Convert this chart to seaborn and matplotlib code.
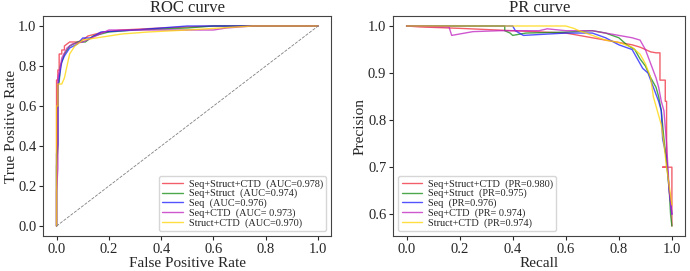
import pandas as pd
import seaborn as sns
import matplotlib.pyplot as plt

modelos = ['Seq+Struct+CTD', 'Seq+Struct', 'Seq', 'Seq+CTD', 'Struct+CTD']
colores = ['#ee2a3a', '#118a11', '#1a1aff', '#c020c0', '#ffd500']
auc_txt = ['(AUC=0.978)', '(AUC=0.974)', '(AUC=0.976)', '(AUC= 0.973)', '(AUC=0.970)']
pr_txt = ['(PR=0.980)', '(PR=0.975)', '(PR=0.976)', '(PR= 0.974)', '(PR=0.974)']

# ROC
fpr_red = [0, 0, 0.005, 0.005, 0.01, 0.01, 0.02, 0.02, 0.03, 0.03, 0.05, 0.08, 0.10, 0.12, 0.18, 0.25, 0.40, 0.60, 1.0]
tpr_red = [0, 0.73, 0.73, 0.78, 0.78, 0.86, 0.86, 0.88, 0.88, 0.90, 0.92, 0.92, 0.93, 0.95, 0.97, 0.98, 0.99, 1.0, 1.0]
fpr_green = [0, 0, 0.005, 0.005, 0.01, 0.015, 0.03, 0.05, 0.08, 0.11, 0.14, 0.20, 0.30, 0.50, 0.60, 1.0]
tpr_green = [0, 0.30, 0.39, 0.70, 0.72, 0.80, 0.86, 0.90, 0.92, 0.92, 0.95, 0.97, 0.98, 0.99, 1.0, 1.0]
fpr_blue = [0, 0, 0.005, 0.005, 0.015, 0.02, 0.03, 0.05, 0.08, 0.10, 0.13, 0.17, 0.30, 0.50, 1.0]
tpr_blue = [0, 0.36, 0.41, 0.70, 0.78, 0.82, 0.85, 0.89, 0.91, 0.94, 0.94, 0.97, 0.98, 1.0, 1.0]
fpr_mag = [0, 0, 0.005, 0.005, 0.015, 0.02, 0.04, 0.06, 0.10, 0.15, 0.20, 0.40, 0.60, 0.65, 0.75, 1.0]
tpr_mag = [0, 0.17, 0.29, 0.74, 0.80, 0.84, 0.89, 0.91, 0.92, 0.95, 0.98, 0.98, 0.98, 0.99, 1.0, 1.0]
fpr_yel = [0, 0, 0.005, 0.005, 0.02, 0.03, 0.04, 0.05, 0.07, 0.10, 0.15, 0.20, 0.25, 0.35, 0.50, 0.75, 1.0]
tpr_yel = [0, 0.60, 0.60, 0.71, 0.71, 0.74, 0.80, 0.86, 0.90, 0.93, 0.94, 0.95, 0.96, 0.97, 0.98, 1.0, 1.0]

# PR
rec_red = [0, 0.05, 0.20, 0.40, 0.60, 0.70, 0.80, 0.85, 0.88, 0.90, 0.92, 0.94, 0.955, 0.955, 0.975, 0.975, 0.98, 0.98, 0.965, 0.965, 1.0, 1.0]
pre_red = [1.0, 0.998, 0.995, 0.99, 0.985, 0.975, 0.965, 0.96, 0.955, 0.95, 0.945, 0.943, 0.943, 0.885, 0.885, 0.84, 0.84, 0.70, 0.70, 0.70, 0.70, 0.575]
rec_green = [0, 0.37, 0.37, 0.39, 0.40, 0.45, 0.60, 0.70, 0.75, 0.80, 0.83, 0.86, 0.88, 0.90, 0.92, 0.94, 0.95, 0.96, 0.97, 0.98, 0.99, 0.995, 1.0]
pre_green = [1.0, 1.0, 0.99, 0.985, 0.98, 0.985, 0.987, 0.99, 0.985, 0.975, 0.96, 0.95, 0.93, 0.915, 0.89, 0.87, 0.85, 0.82, 0.76, 0.71, 0.65, 0.60, 0.575]
rec_blue = [0, 0.40, 0.41, 0.44, 0.60, 0.70, 0.75, 0.80, 0.85, 0.87, 0.89, 0.91, 0.93, 0.95, 0.96, 0.965, 0.98, 0.99, 1.0]
pre_blue = [1.0, 1.0, 0.99, 0.98, 0.985, 0.985, 0.975, 0.96, 0.95, 0.93, 0.91, 0.90, 0.87, 0.84, 0.82, 0.76, 0.72, 0.65, 0.60]
rec_mag = [0, 0.16, 0.17, 0.25, 0.35, 0.50, 0.53, 0.60, 0.70, 0.80, 0.85, 0.88, 0.90, 0.92, 0.94, 0.95, 0.96, 0.97, 0.98, 0.99, 1.0]
pre_mag = [1.0, 0.998, 0.98, 0.988, 0.99, 0.99, 0.994, 0.99, 0.99, 0.98, 0.975, 0.97, 0.95, 0.92, 0.89, 0.87, 0.84, 0.82, 0.75, 0.65, 0.60]
rec_yel = [0, 0.40, 0.60, 0.63, 0.65, 0.70, 0.75, 0.80, 0.85, 0.88, 0.90, 0.92, 0.93, 0.95, 0.96, 0.97, 0.98, 0.99, 1.0]
pre_yel = [1.0, 1.0, 1.0, 0.995, 0.99, 0.98, 0.97, 0.965, 0.955, 0.94, 0.92, 0.89, 0.85, 0.81, 0.79, 0.75, 0.70, 0.66, 0.62]

roc = [(fpr_red, tpr_red), (fpr_green, tpr_green), (fpr_blue, tpr_blue), (fpr_mag, tpr_mag), (fpr_yel, tpr_yel)]
pr = [(rec_red, pre_red), (rec_green, pre_green), (rec_blue, pre_blue), (rec_mag, pre_mag), (rec_yel, pre_yel)]

sns.set_style("ticks")
plt.rcParams['font.family'] = ['Liberation Serif', 'DejaVu Serif']

fig = plt.figure(figsize=(6.9, 2.71), dpi=100)
ax1 = fig.add_axes([0.063, 0.129, 0.417, 0.812])
ax2 = fig.add_axes([0.570, 0.129, 0.423, 0.812])

for i, (x, y) in enumerate(roc):
    df = pd.DataFrame({'x': x, 'y': y})
    sns.lineplot(data=df, x='x', y='y', ax=ax1, sort=False, estimator=None, color=colores[i],
                 lw=1, alpha=0.75, label=f'{modelos[i]}  {auc_txt[i]}')
ax1.plot([0, 1], [0, 1], ls='--', color='gray', lw=0.6)
ax1.set_title('ROC curve', fontsize=12, pad=3)
ax1.set_xlabel('False Positive Rate', fontsize=11, labelpad=1)
ax1.set_ylabel('True Positive Rate', fontsize=11, labelpad=0)
ax1.legend(loc='lower right', fontsize=7.4, handlelength=2.0, labelspacing=0.02,
           borderpad=0.3, handletextpad=0.6, framealpha=0.8)

for i, (x, y) in enumerate(pr):
    df = pd.DataFrame({'x': x, 'y': y})
    sns.lineplot(data=df, x='x', y='y', ax=ax2, sort=False, estimator=None, color=colores[i],
                 lw=1, alpha=0.75, label=f'{modelos[i]}  {pr_txt[i]}')
ax2.set_title('PR curve', fontsize=12, pad=3)
ax2.set_xlabel('Recall', fontsize=11, labelpad=1)
ax2.set_ylabel('Precision', fontsize=11, labelpad=1)
ax2.set_yticks([0.6, 0.7, 0.8, 0.9, 1.0])
ax2.legend(loc='lower left', fontsize=7.4, handlelength=2.0, labelspacing=0.02,
           borderpad=0.3, handletextpad=0.6, framealpha=0.8)

for ax in (ax1, ax2):
    ax.tick_params(labelsize=10.5, length=3, pad=2)
    for s in ax.spines.values():
        s.set_color('#444444')
        s.set_linewidth(0.8)

fig.savefig('out.png', dpi=100)
